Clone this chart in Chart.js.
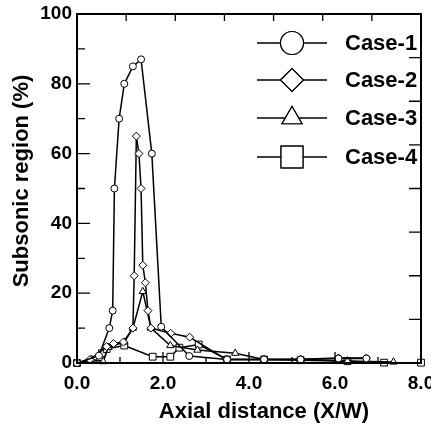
<!DOCTYPE html>
<html>
<head>
<meta charset="utf-8">
<script src="https://cdn.jsdelivr.net/npm/chart.js@4/dist/chart.umd.min.js"></script>
<style>
  html, body { margin: 0; padding: 0; background: #fff; }
</style>
</head>
<body>
<canvas id="chart" width="431" height="425"></canvas>
<script>
// values
const caseNames = ['Case-1', 'Case-2', 'Case-3', 'Case-4'];
const caseMarkers = ['circle', 'rectRot', 'triangle', 'rect'];

const case1X = [0, 0.51, 0.75, 0.83, 0.87, 0.98, 1.10, 1.30, 1.49, 1.74, 1.96, 2.61, 3.49, 4.35, 5.20, 6.08, 6.73];
const case1Y = [0, 2.1, 10, 15, 50, 70, 80, 85, 87, 60, 10.4, 2, 1, 1, 1, 1.3, 1.3];

const case2X = [0, 0.30, 0.69, 0.85, 1.08, 1.30, 1.33, 1.38, 1.44, 1.49, 1.53, 1.59, 1.65, 1.72, 2.18, 2.62, 3.47, 4.35, 5.20, 6.08, 6.73];
const case2Y = [0, 1, 4.7, 5.6, 6, 10, 25, 65, 60, 50, 28, 23, 15, 10, 8.5, 7.4, 1, 1, 1.1, 1.4, 1.4];

const case3X = [0, 0.34, 0.61, 0.73, 1.10, 1.30, 1.53, 1.72, 2.17, 2.80, 3.68, 4.35, 5.20, 6.29, 7.36];
const case3Y = [0, 1, 0.4, 4.5, 6, 10, 20.5, 10, 5, 3.7, 2.8, 1, 1, 0.6, 0.3];

const case4X = [0, 0.38, 0.58, 0.69, 1.10, 1.76, 2.17, 2.38, 2.83, 3.49, 4.35, 5.20, 6.29, 7.14, 8.0];
const case4Y = [0, 0.9, 2.8, 4, 5, 1.8, 1.8, 4.4, 5.3, 1, 1, 0.8, 0.5, 0.1, 0.1];

const xTickLabels = [0, 2, 4, 6, 8];
const yTickLabels = [0, 20, 40, 60, 80, 100];

const seriesX = [case1X, case2X, case3X, case4X];
const seriesY = [case1Y, case2Y, case3Y, case4Y];
const markerRadius = [3.5, 4, 4.2, 4.8];

const boldFont = '"Liberation Sans", Arial, Helvetica, sans-serif';

const datasets = caseNames.map((name, i) => ({
  label: name,
  data: seriesX[i].map((x, j) => ({ x: x, y: seriesY[i][j] })),
  borderColor: '#000',
  borderWidth: 1.5,
  backgroundColor: '#fff',
  pointStyle: caseMarkers[i],
  pointRadius: markerRadius[i],
  pointBorderWidth: 1,
  pointBorderColor: '#000',
  pointBackgroundColor: '#fff',
  tension: 0,
  clip: false
}));

// frame, inner ticks, legend and axis titles
const decorations = {
  id: 'decorations',
  afterDraw(chart) {
    const ctx = chart.ctx;
    const a = chart.chartArea;
    const xs = chart.scales.x;
    const ys = chart.scales.y;
    ctx.save();
    ctx.strokeStyle = '#000';
    ctx.lineWidth = 1.3;
    ctx.beginPath();
    // left ticks every 10
    for (let v = 10; v < 100; v += 10) {
      const py = ys.getPixelForValue(v);
      const len = v % 20 === 0 ? 13 : 8;
      ctx.moveTo(a.left, py);
      ctx.lineTo(a.left + len, py);
    }
    // bottom ticks every 1
    for (let v = 1; v < 8; v++) {
      const px = xs.getPixelForValue(v);
      const len = v % 2 === 0 ? 11 : 6;
      ctx.moveTo(px, a.bottom);
      ctx.lineTo(px, a.bottom - len);
    }
    // top axis: 7 divisions
    for (let k = 1; k < 7; k++) {
      const px = a.left + (a.right - a.left) * k / 7;
      ctx.moveTo(px, a.top);
      ctx.lineTo(px, a.top + 7);
    }
    // right axis: 8 divisions
    for (let k = 1; k < 8; k++) {
      const py = a.top + (a.bottom - a.top) * k / 8;
      ctx.moveTo(a.right, py);
      ctx.lineTo(a.right - 12, py);
    }
    ctx.stroke();

    ctx.lineWidth = 2;
    ctx.strokeRect(a.left, a.top, a.right - a.left, a.bottom - a.top);

    // legend
    const rowY = [43, 80, 118, 157];
    const legendRadius = [11.5, 11.5, 11.5, 15.5];
    ctx.font = 'bold 22px ' + boldFont;
    ctx.textBaseline = 'middle';
    ctx.textAlign = 'left';
    ctx.fillStyle = '#000';
    caseNames.forEach((name, i) => {
      ctx.lineWidth = 1.5;
      ctx.beginPath();
      ctx.moveTo(257, rowY[i]);
      ctx.lineTo(327, rowY[i]);
      ctx.stroke();
      ctx.fillStyle = '#fff';
      ctx.lineWidth = 1.2;
      Chart.helpers.drawPoint(ctx, { pointStyle: caseMarkers[i], radius: legendRadius[i], borderWidth: 1.2, rotation: 0 }, 292, rowY[i]);
      ctx.fill();
      ctx.stroke();
      ctx.fillStyle = '#000';
      ctx.fillText(name, 345, rowY[i] + 1);
    });

    // axis titles
    ctx.font = 'bold 22px ' + boldFont;
    ctx.textAlign = 'center';
    ctx.fillText('Axial distance (X/W)', 264, 412);
    ctx.translate(22, 181);
    ctx.rotate(-Math.PI / 2);
    ctx.fillText('Subsonic region (%)', 0, 0);
    ctx.restore();
  }
};

new Chart(document.getElementById('chart'), {
  type: 'line',
  data: { datasets: datasets },
  plugins: [decorations],
  options: {
    responsive: false,
    animation: false,
    events: [],
    layout: { padding: { top: 14, right: 10, left: 0, bottom: 0 } },
    plugins: { legend: { display: false }, tooltip: { enabled: false } },
    scales: {
      x: {
        type: 'linear',
        min: 0,
        max: 8,
        afterBuildTicks: (scale) => { scale.ticks = xTickLabels.map(v => ({ value: v })); },
        afterFit: (scale) => { scale.height = 62; scale.paddingLeft = 0; scale.paddingRight = 0; },
        grid: { display: false, drawTicks: false },
        border: { display: false },
        ticks: {
          padding: 9,
          color: '#000',
          maxRotation: 0,
          font: { family: boldFont, size: 19, weight: 'bold' },
          callback: (v) => Number(v).toFixed(1)
        }
      },
      y: {
        type: 'linear',
        min: 0,
        max: 100,
        afterBuildTicks: (scale) => { scale.ticks = yTickLabels.map(v => ({ value: v })); },
        afterFit: (scale) => { scale.width = 77; scale.paddingTop = 0; scale.paddingBottom = 0; },
        grid: { display: false, drawTicks: false },
        border: { display: false },
        ticks: {
          padding: 5,
          color: '#000',
          font: { family: boldFont, size: 19, weight: 'bold' },
          callback: (v) => String(v)
        }
      }
    }
  }
});
</script>
</body>
</html>
